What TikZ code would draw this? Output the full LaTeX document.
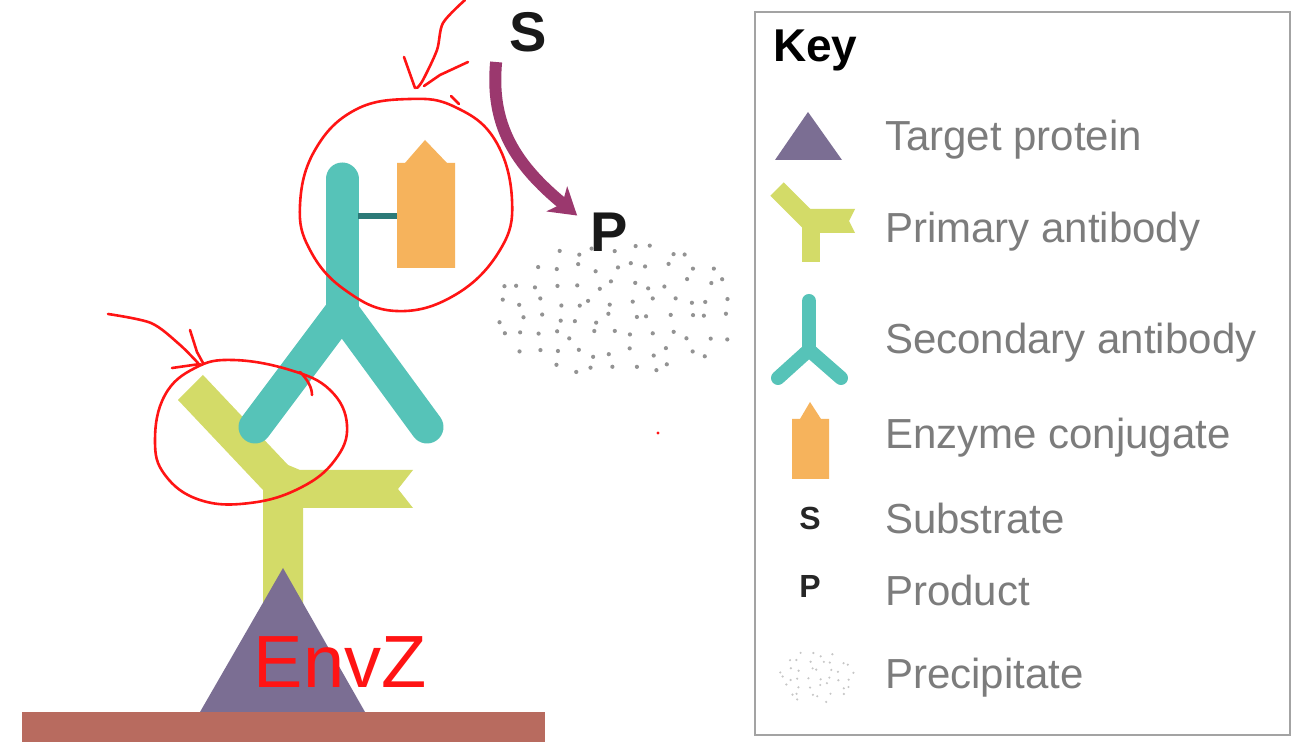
\documentclass[tikz,border=0pt]{standalone}
\usepackage{fontspec}
\setmainfont{Liberation Sans}
\usetikzlibrary{arrows.meta}

\definecolor{plate}{HTML}{B86B5F}
\definecolor{protein}{HTML}{7B6E93}
\definecolor{primab}{HTML}{D3DB68}
\definecolor{secab}{HTML}{56C3B8}
\definecolor{linker}{HTML}{2C7A78}
\definecolor{enzyme}{HTML}{F6B35C}
\definecolor{reaction}{HTML}{9B386E}
\definecolor{keygray}{HTML}{7C7C7C}
\definecolor{pen}{HTML}{FF1414}

\tikzstyle{letter} = [inner sep=0pt, font=\fontsize{56}{60}\selectfont\bfseries, text=black!90]
\tikzstyle{keyletter} = [inner sep=0pt, font=\fontsize{32}{36}\selectfont\bfseries, text=black!85]
\tikzstyle{keytext} = [anchor=west, inner sep=0pt, font=\fontsize{42}{46}\selectfont, text=keygray]
\tikzstyle{conversion} = [draw=reaction, line width=12pt, -{Stealth[length=26pt,width=32pt,inset=7pt]}]
\tikzstyle{secarm} = [draw=secab, line cap=round, line join=round]
\tikzstyle{ink} = [draw=pen, line width=2.6pt, line cap=round, line join=round]

\begin{document}
\begin{tikzpicture}[x=1pt, y=1pt]
    \useasboundingbox (0,0) rectangle (1298,746);
    \fill[white] (0,0) rectangle (1298,746);

    % plate and target protein
    \fill[plate] (22,4) rectangle (545,34);
    \fill[primab] (263,136) -- (263,256) -- (178,346) -- (203,371) -- (288,281) -- (300,276)
        -- (413,276) -- (398,257) -- (413,238) -- (303,238) -- (303,136) -- cycle;
    \fill[protein] (200,34) -- (365,34) -- (283,178) -- cycle;

    % secondary antibody with enzyme
    \draw[secarm, line width=33pt] (255,319) -- (342,435) -- (427,319);
    \draw[secarm, line width=33pt] (342,435) -- (342,567);
    \coordinate (hinge) at (358,530);
    \coordinate (enz) at (398,530);
    \draw[linker, line width=6pt] (hinge) -- (enz);
    \fill[enzyme] (397,478) -- (455,478) -- (455,583) -- (447,583) -- (425,606) -- (405,583)
        -- (397,583) -- cycle;

    % substrate -> product
    \node[letter] (sub) at (528,714) {S};
    \node[letter] (prod) at (609,514) {P};
    \draw[conversion] ([xshift=-13pt,yshift=-10pt]sub.south west) .. controls +(-6,-63) and +(-62,51) .. ([xshift=-13pt,yshift=-3pt]prod.north west);

    % precipitate
    \pgfmathsetseed{11}
    \foreach \gx in {480,499,...,760} {
        \foreach \gy in {360,377,...,520} {
            \pgfmathsetmacro{\px}{\gx+rand*6}
            \pgfmathsetmacro{\py}{\gy+rand*5}
            \pgfmathsetmacro{\inside}{((\px-615)/125)^2+((\py-436)/68)^2}
            \ifdim\inside pt<1pt \fill[gray!85] (\px,\py) circle (2.1); \fi
        }
    }

    % key
    \draw[keygray!70, line width=2pt] (755,11) rectangle (1290,734);
    \node[anchor=west, inner sep=0pt, font=\fontsize{46}{50}\selectfont\bfseries] (key) at (773,696) {Key};

    \fill[protein] (775,586) -- (842,586) -- (808,634) -- cycle;
    \node[keytext] (tgt) at (885,606) {Target protein};

    \draw[primab, line width=19pt] (777,557) -- (811,523);
    \fill[primab] (802,484) rectangle (820,528);
    \fill[primab] (808,513) -- (855,513) -- (849,525) -- (855,537) -- (808,537) -- cycle;
    \node[keytext] (pri) at (885,514) {Primary antibody};

    \draw[secarm, line width=14pt] (778,368) -- (809,396) -- (841,368);
    \draw[secarm, line width=14pt] (809,396) -- (809,445);
    \node[keytext] (sec) at (885,403) {Secondary antibody};

    \fill[enzyme] (792,267) -- (829,267) -- (829,327) -- (821,327) -- (810,344) -- (800,327)
        -- (792,327) -- cycle;
    \node[keytext] (enzk) at (885,308) {Enzyme conjugate};

    \node[keyletter] (subk) at (810,228) {S};
    \node[keytext] (subt) at (885,228) {Substrate};
    \node[keyletter] (prodk) at (810,160) {P};
    \node[keytext] (prodt) at (885,156) {Product};

    \foreach \gx in {780,790,...,852} {
        \foreach \gy in {44,52,...,96} {
            \pgfmathsetmacro{\px}{\gx+rand*4}
            \pgfmathsetmacro{\py}{\gy+rand*3}
            \pgfmathsetmacro{\inside}{((\px-816)/38)^2+((\py-70)/27)^2}
            \ifdim\inside pt<1pt \fill[gray!45] (\px,\py) circle (1.2); \fi
        }
    }
    \node[keytext] (prec) at (885,68) {Precipitate};

    % red pen notes
    \draw[ink] plot[smooth cycle, tension=0.7] coordinates {(410,647) (455,639) (495,606) (512,546)
        (500,496) (455,451) (396,435) (345,456) (310,496) (300,541) (315,596) (355,636)};
    \draw[ink] (451,650) -- (459,642);
    \draw[ink] plot[smooth] coordinates {(465,746) (443,723) (437,696) (423,666) (417,658)};
    \draw[ink] (404,689) -- (415,658);
    \draw[ink] (468,684) -- (440,671) -- (424,660);

    \draw[ink] plot[smooth cycle, tension=0.7] coordinates {(233,386) (290,376) (330,356) (347,321)
        (335,286) (300,258) (250,243) (200,246) (165,271) (155,306) (165,351) (195,378)};
    \draw[ink] (300,374) .. controls (308,366) and (312,358) .. (312,351);
    \draw[ink] plot[smooth] coordinates {(108,432) (151,423) (179,402) (198,383)};
    \draw[ink] (190,416) -- (197,394) -- (203,383);
    \draw[ink] (172,378) -- (200,382);
    \fill[pen] (658,313) circle (1.6);

    \node[text=pen, inner sep=0pt, font=\fontsize{74}{80}\selectfont] (envz) at (340,84) {EnvZ};
\end{tikzpicture}
\end{document}
